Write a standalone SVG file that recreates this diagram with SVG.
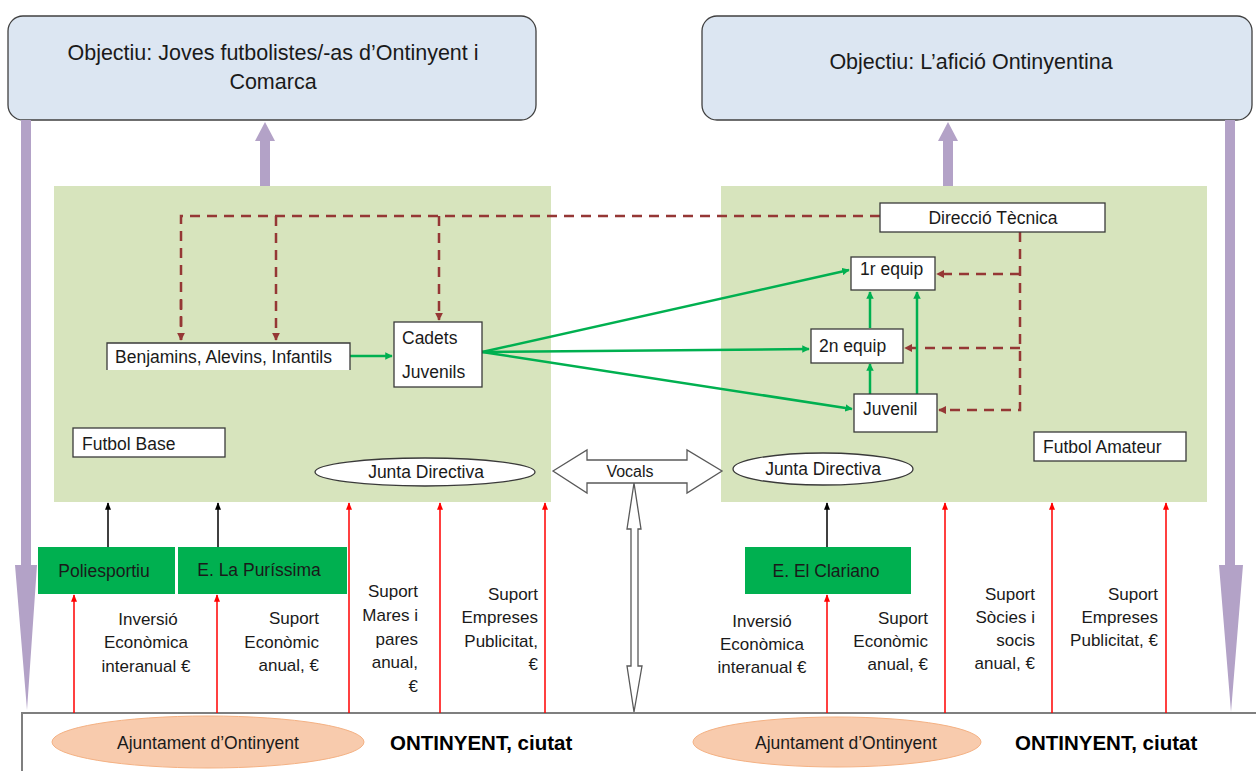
<svg xmlns="http://www.w3.org/2000/svg" width="1256" height="771" viewBox="0 0 1256 771">
<defs>
<style>
text{font-family:"Liberation Sans",Arial,sans-serif;fill:#1a1a1a}
.t15{font-size:17.5px}
.t16{font-size:17px}
.title{font-size:21.5px}
.box{fill:#fff;stroke:#3a3a3a;stroke-width:1.3}
.obj{fill:#dce6f2;stroke:#404040;stroke-width:1.3}
.panel{fill:#d7e4bd}
.gbox{fill:#00b050}
.dash{fill:none;stroke:#953735;stroke-width:2.5;stroke-dasharray:10 7}
.green{fill:none;stroke:#00b050;stroke-width:2.5}
.red{fill:none;stroke:#ff0000;stroke-width:1.5}
.blk{fill:none;stroke:#000;stroke-width:1.5}
.purple{fill:#b3a2c7}
.hollow{fill:#fff;stroke:#595959;stroke-width:1.3}
.bold{font-weight:bold;font-size:20.5px;fill:#000}
.r{text-anchor:end}
.c{text-anchor:middle}
</style>
<marker id="mGreen" viewBox="0 0 10 10" refX="9" refY="5" markerWidth="3" markerHeight="3" orient="auto"><path d="M0,0L10,5L0,10z" fill="#00b050"/></marker>
<marker id="mBrown" viewBox="0 0 10 10" refX="9" refY="5" markerWidth="3.2" markerHeight="3.2" orient="auto"><path d="M0,0L10,5L0,10z" fill="#953735"/></marker>
<marker id="mRed" viewBox="0 0 10 10" refX="9" refY="5" markerWidth="5" markerHeight="5" orient="auto"><path d="M0,1L10,5L0,9z" fill="#ff0000"/></marker>
<marker id="mBlk" viewBox="0 0 10 10" refX="9" refY="5" markerWidth="5" markerHeight="5" orient="auto"><path d="M0,1L10,5L0,9z" fill="#000"/></marker>
</defs>

<!-- Panels -->
<g id="panel-base"><rect class="panel" x="54" y="186" width="497" height="316"/></g>
<g id="panel-amateur"><rect class="panel" x="721" y="186" width="486" height="316"/></g>

<!-- Bottom city box -->
<g id="city"><rect x="22" y="713" width="1250" height="70" fill="#fff" stroke="#7f7f7f" stroke-width="2"/></g>

<!-- Objective boxes -->
<g id="obj-left">
<rect class="obj" x="8" y="16" width="528" height="104" rx="15"/>
<text class="title c" x="273" y="60">Objectiu: Joves futbolistes/-as d’Ontinyent i</text>
<text class="title c" x="273" y="89">Comarca</text>
</g>
<g id="obj-right">
<rect class="obj" x="702" y="16" width="550" height="104" rx="15"/>
<text class="title c" x="971" y="69">Objectiu: L’afició Ontinyentina</text>
</g>

<!-- Connectors -->
<g id="connectors">
<path class="purple" d="M260,186V141H255L265,122L275,141H270V186z"/>
<path class="purple" d="M943,186V141H938L948,122L958,141H953V186z"/>
<path class="purple" d="M21,120H31V565H37L27,710L15,565H21z"/>
<path class="purple" d="M1225,120H1235V565H1243L1231,712L1219,565H1225z"/>

<path class="dash" d="M880,216H181V340"/>
<path class="dash" d="M276,216V340" marker-end="url(#mBrown)"/>
<path class="dash" d="M181,300V340" marker-end="url(#mBrown)" stroke-dasharray="0"/>
<path class="dash" d="M439,216V320" marker-end="url(#mBrown)"/>
<path class="dash" d="M1020,232V410H939" marker-end="url(#mBrown)"/>
<path class="dash" d="M1020,274H937" marker-end="url(#mBrown)"/>
<path class="dash" d="M1020,348H905" marker-end="url(#mBrown)"/>

<path class="green" d="M350,356H392" marker-end="url(#mGreen)"/>
<path class="green" d="M482,352L849,270" marker-end="url(#mGreen)"/>
<path class="green" d="M482,352L809,349" marker-end="url(#mGreen)"/>
<path class="green" d="M482,352L852,409" marker-end="url(#mGreen)"/>
<path class="green" d="M870,328V292" marker-end="url(#mGreen)"/>
<path class="green" d="M870,394V364" marker-end="url(#mGreen)"/>
<path class="green" d="M917,394V292" marker-end="url(#mGreen)"/>

<path class="blk" d="M108,547V503" marker-end="url(#mBlk)"/>
<path class="blk" d="M218,547V503" marker-end="url(#mBlk)"/>
<path class="blk" d="M827,547V503" marker-end="url(#mBlk)"/>

<path class="red" d="M74,713V595" marker-end="url(#mRed)"/>
<path class="red" d="M217,713V595" marker-end="url(#mRed)"/>
<path class="red" d="M349,713V503" marker-end="url(#mRed)"/>
<path class="red" d="M440,713V503" marker-end="url(#mRed)"/>
<path class="red" d="M545,713V503" marker-end="url(#mRed)"/>
<path class="red" d="M827,713V595" marker-end="url(#mRed)"/>
<path class="red" d="M945,713V503" marker-end="url(#mRed)"/>
<path class="red" d="M1052,713V503" marker-end="url(#mRed)"/>
<path class="red" d="M1166,713V503" marker-end="url(#mRed)"/>

<path class="hollow" d="M634,483L641,529H638V666H642L634,712L627,666H631V529H627z"/>
</g>

<!-- Vocals -->
<g id="vocals">
<path class="hollow" d="M553,471L587,450V460H687V450L722,471L687,493V483H587V493z"/>
<text x="630" y="477" class="c" style="font-size:16px">Vocals</text>
</g>

<!-- Left nodes -->
<g id="benjamins">
<rect x="107" y="343" width="243" height="27" fill="#fff"/>
<path d="M107,370V343H350V370" fill="none" stroke="#3a3a3a" stroke-width="1.3"/>
<text class="t15" x="115" y="363">Benjamins, Alevins, Infantils</text>
</g>
<g id="cadets">
<rect class="box" x="394" y="322" width="88" height="65"/>
<text class="t15" x="402" y="344">Cadets</text>
<text class="t15" x="402" y="378">Juvenils</text>
</g>
<g id="futbol-base">
<rect class="box" x="73" y="428" width="152" height="29"/>
<text class="t15" x="82" y="450">Futbol Base</text>
</g>
<g id="junta-left">
<ellipse cx="425" cy="472" rx="110" ry="14" fill="#fff" stroke="#3a3a3a" stroke-width="1.3"/>
<text class="t15 c" x="426" y="478">Junta Directiva</text>
</g>

<!-- Right nodes -->
<g id="direccio">
<rect class="box" x="880" y="203" width="225" height="29"/>
<text class="t15 c" x="993" y="224">Direcció Tècnica</text>
</g>
<g id="equip1">
<rect class="box" x="851" y="257" width="84" height="33"/>
<text class="t15" x="860" y="275">1r equip</text>
</g>
<g id="equip2">
<rect class="box" x="811" y="329" width="92" height="34"/>
<text class="t15" x="819" y="352">2n equip</text>
</g>
<g id="juvenil">
<rect class="box" x="854" y="394" width="83" height="38"/>
<text class="t15" x="863" y="415">Juvenil</text>
</g>
<g id="futbol-amateur">
<rect class="box" x="1034" y="432" width="152" height="29"/>
<text class="t15" x="1043" y="453">Futbol Amateur</text>
</g>
<g id="junta-right">
<ellipse cx="823" cy="469" rx="90" ry="16" fill="#fff" stroke="#3a3a3a" stroke-width="1.3"/>
<text class="t15 c" x="823" y="475">Junta Directiva</text>
</g>

<!-- Green facility boxes -->
<g id="poliesportiu">
<rect class="gbox" x="38" y="547" width="137" height="47"/>
<text class="t15 c" x="104" y="577">Poliesportiu</text>
</g>
<g id="purissima">
<rect class="gbox" x="178" y="547" width="169" height="47"/>
<text class="t15 c" x="259" y="576">E. La Puríssima</text>
</g>
<g id="clariano">
<rect class="gbox" x="745" y="547" width="166" height="47"/>
<text class="t15 c" x="826" y="577">E.  El Clariano</text>
</g>

<!-- Labels -->
<g id="labels-left">
<text class="t16 c" x="148" y="625">Inversió</text>
<text class="t16 c" x="146" y="648">Econòmica</text>
<text class="t16 c" x="146" y="672">interanual €</text>
<text class="t16 r" x="319" y="624">Suport</text>
<text class="t16 r" x="319" y="648">Econòmic</text>
<text class="t16 r" x="319" y="671">anual, €</text>
<text class="t16 r" x="418" y="597">Suport</text>
<text class="t16 r" x="418" y="621">Mares i</text>
<text class="t16 r" x="418" y="645">pares</text>
<text class="t16 r" x="418" y="668">anual,</text>
<text class="t16 r" x="418" y="692">€</text>
<text class="t16 r" x="538" y="600">Suport</text>
<text class="t16 r" x="538" y="623">Empreses</text>
<text class="t16 r" x="538" y="647">Publicitat,</text>
<text class="t16 r" x="538" y="670">€</text>
</g>
<g id="labels-right">
<text class="t16 c" x="762" y="627">Inversió</text>
<text class="t16 c" x="762" y="650">Econòmica</text>
<text class="t16 c" x="762" y="673">interanual €</text>
<text class="t16 r" x="928" y="624">Suport</text>
<text class="t16 r" x="928" y="647">Econòmic</text>
<text class="t16 r" x="928" y="670">anual, €</text>
<text class="t16 r" x="1035" y="600">Suport</text>
<text class="t16 r" x="1035" y="623">Sòcies i</text>
<text class="t16 r" x="1035" y="646">socis</text>
<text class="t16 r" x="1035" y="669">anual, €</text>
<text class="t16 r" x="1158" y="600">Suport</text>
<text class="t16 r" x="1158" y="623">Empreses</text>
<text class="t16 r" x="1158" y="646">Publicitat, €</text>
</g>

<!-- City ellipses -->
<g id="ajuntament-left">
<ellipse cx="208" cy="742" rx="156" ry="26" fill="#f8cbad" stroke="#f4b183"/>
<text class="t15 c" x="208" y="749">Ajuntament d’Ontinyent</text>
</g>
<g id="ajuntament-right">
<ellipse cx="837" cy="742" rx="144" ry="25" fill="#f8cbad" stroke="#f4b183"/>
<text class="t15 c" x="846" y="749">Ajuntament d’Ontinyent</text>
</g>
<g id="city-labels">
<text class="bold" x="390" y="750">ONTINYENT, ciutat</text>
<text class="bold" x="1015" y="750">ONTINYENT, ciutat</text>
</g>
</svg>
